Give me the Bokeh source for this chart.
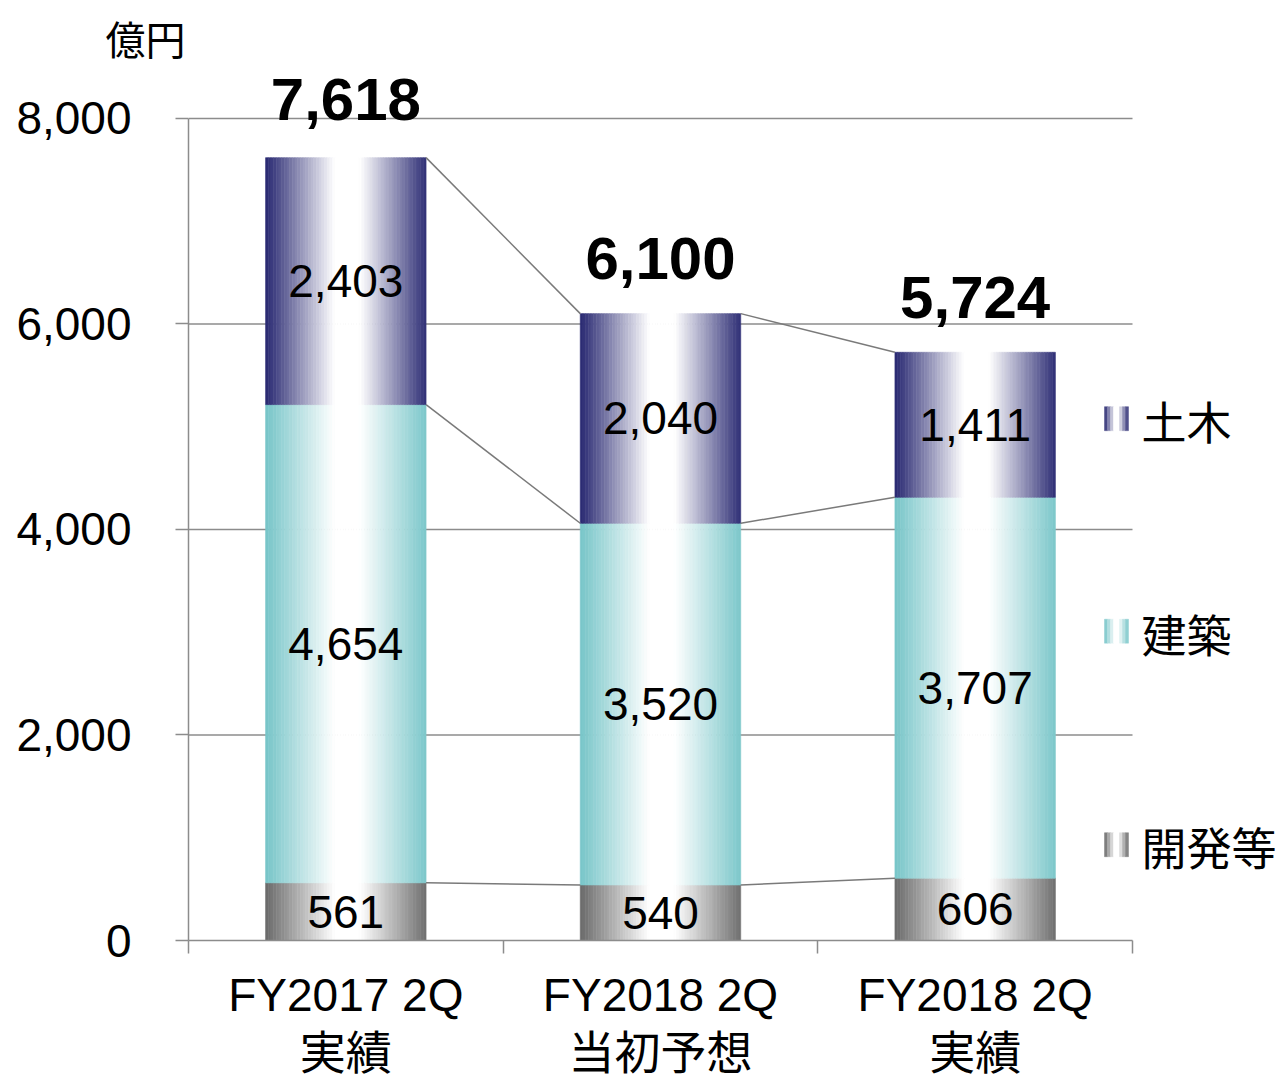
import numpy as np
from bokeh.plotting import figure
from bokeh.models import FixedTicker, Range1d, NumeralTickFormatter, ColumnDataSource
from bokeh.embed import file_html
from bokeh.resources import INLINE
from bokeh.core.properties import value

# ---------------- data ----------------
categories = ["FY2017 2Q\n実績", "FY2018 2Q\n当初予想", "FY2018 2Q\n実績"]
development = [561, 540, 606]    # 開発等
building = [4654, 3520, 3707]    # 建築
civil = [2403, 2040, 1411]       # 土木
totals = [7618, 6100, 5724]
series_names = ["開発等", "建築", "土木"]
y_ticks = [0, 2000, 4000, 6000, 8000]
unit_label = "億円"

# ---------------- style / layout ----------------
W, H = 1280, 1081
BORDER_L, BORDER_T, BORDER_B = 188, 70, 139
FRAME_W, FRAME_H = W - BORDER_L, H - BORDER_T - BORDER_B
PX_X = 944 / 3.0          # px per category unit
PX_Y = 824 / 8000.0       # px per value unit
X_END = FRAME_W / PX_X
Y_END = FRAME_H / PX_Y
BAR_W = 0.51
N_STRIPS = 60
EDGE = {"開発等": (108, 108, 108), "建築": (121, 198, 201), "土木": (43, 43, 115)}
NUM_FONT = "Liberation Sans"
CJK_FONT = "Noto Sans CJK JP"
GRAY = "#8c8c8c"


def grad(edge, t):
    d = abs(t - 0.51)
    f = min(1.0, max(0.0, (0.5 - d) / (0.5 - 0.08)))
    c = [int(round(e + (255 - e) * f)) for e in edge]
    return "#%02x%02x%02x" % tuple(c)


p = figure(width=W, height=H, output_backend="svg", toolbar_location=None,
           x_range=Range1d(0, X_END), y_range=Range1d(0, Y_END),
           min_border_left=BORDER_L, min_border_right=0, min_border_top=BORDER_T,
           min_border_bottom=BORDER_B, title=unit_label)
p.outline_line_color = None
p.xgrid.visible = False
p.ygrid.visible = False
p.title.text_font = CJK_FONT
p.title.text_font_size = "40px"
p.title.text_font_style = "normal"
p.title.text_color = "black"
p.title.align = "left"
p.title.vertical_align = "top"
p.title.offset = -83
p.title.standoff = 4

# gridlines (only over the category area)
gl = [t for t in y_ticks if t > 0]
p.segment(x0=[0] * len(gl), x1=[3] * len(gl), y0=gl, y1=gl, line_color=GRAY, line_width=1.5)

# stacked gradient bars
centers = [i + 0.5 for i in range(len(categories))]
stack = [development, building, civil]
L, R, B, T, C = [], [], [], [], []
for i, cx in enumerate(centers):
    base = 0
    for name, vals in zip(series_names, stack):
        top = base + vals[i]
        for j in range(N_STRIPS):
            t = (j + 0.5) / N_STRIPS
            l = cx - BAR_W / 2 + j * BAR_W / N_STRIPS
            L.append(l)
            R.append(l + BAR_W / N_STRIPS)
            B.append(base)
            T.append(top)
            C.append(grad(EDGE[name], t))
        base = top
src = ColumnDataSource(dict(left=L, right=R, bottom=B, top=T, color=C))
p.quad(left="left", right="right", bottom="bottom", top="top", fill_color="color",
       line_color="color", line_width=0.6, source=src)

# connector lines between bars
cum = [np.cumsum([development[i], building[i], civil[i]]) for i in range(3)]
x0s, x1s, y0s, y1s = [], [], [], []
for i in range(len(centers) - 1):
    for k in range(3):
        x0s.append(centers[i] + BAR_W / 2)
        x1s.append(centers[i + 1] - BAR_W / 2)
        y0s.append(float(cum[i][k]))
        y1s.append(float(cum[i + 1][k]))
p.segment(x0=x0s, x1=x1s, y0=y0s, y1=y1s, line_color="#7a7a7a", line_width=1.5)

# segment value labels
lx, ly, lt = [], [], []
for i, cx in enumerate(centers):
    base = 0
    for vals in stack:
        lx.append(cx)
        ly.append(base + vals[i] / 2)
        lt.append(f"{vals[i]:,}")
        base += vals[i]
p.text(x=lx, y=ly, text=lt, text_align="center", text_baseline="middle",
       text_font=value(NUM_FONT), text_font_size="46px", text_color="black")

# totals
p.text(x=centers, y=totals, text=[f"{v:,}" for v in totals], text_align="center",
       text_baseline="alphabetic", y_offset=[-58, -55, -55], text_font=value(NUM_FONT),
       text_font_size="60px", text_font_style="bold", text_color="black")

# legend (custom, gradient markers)
leg_px_y = {"土木": 942 - 421, "建築": 942 - 634, "開発等": 942 - 848}
mk_l_px, mk_size = 1104 - 188, 24
lL, lR, lB, lT, lC = [], [], [], [], []
for name in series_names:
    yc = (leg_px_y[name] + 2) / PX_Y
    for j in range(8):
        t = (j + 0.5) / 8
        l = (mk_l_px + j * mk_size / 8) / PX_X
        lL.append(l)
        lR.append(l + mk_size / 8 / PX_X)
        lB.append(yc - mk_size / 2 / PX_Y)
        lT.append(yc + mk_size / 2 / PX_Y)
        lC.append(grad(EDGE[name], t))
p.quad(left=lL, right=lR, bottom=lB, top=lT, fill_color=lC, line_color=lC, line_width=0.5)
p.text(x=[(1141 - 188) / PX_X] * 3, y=[leg_px_y[n] / PX_Y for n in series_names],
       text=series_names, text_align="left", text_baseline="middle",
       text_font=value(CJK_FONT), text_font_size="45px", text_color="black")

# axes
xa = p.xaxis[0]
xa.ticker = FixedTicker(ticks=centers, minor_ticks=[0, 1, 2, 3])
xa.major_label_overrides = {c: lab for c, lab in zip(centers, categories)}
xa.bounds = (0, 3)
xa.axis_line_color = GRAY
xa.axis_line_width = 1.5
xa.major_tick_out = 0
xa.major_tick_in = 0
xa.minor_tick_out = 13
xa.minor_tick_in = 0
xa.minor_tick_line_color = GRAY
xa.minor_tick_line_width = 1.5
xa.major_label_text_font = f"{NUM_FONT}, {CJK_FONT}"
xa.major_label_text_font_size = "46px"
xa.major_label_text_color = "black"
xa.major_label_text_line_height = 1.12
xa.major_label_standoff = 15

ya = p.yaxis[0]
ya.ticker = FixedTicker(ticks=y_ticks)
ya.formatter = NumeralTickFormatter(format="0,0")
ya.bounds = (0, 8000)
ya.axis_line_color = GRAY
ya.axis_line_width = 1.5
ya.major_tick_out = 13
ya.major_tick_in = 0
ya.major_tick_line_color = GRAY
ya.major_tick_line_width = 1.5
ya.minor_tick_line_color = None
ya.major_label_text_font = NUM_FONT
ya.major_label_text_font_size = "46px"
ya.major_label_text_color = "black"
ya.major_label_standoff = 44

open("out.html", "w").write(file_html(p, INLINE))
